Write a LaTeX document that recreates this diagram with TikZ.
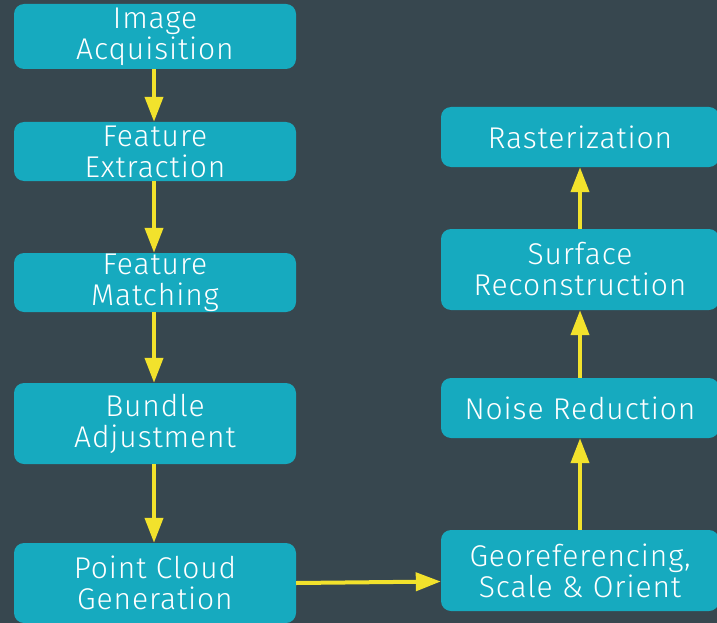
\documentclass[tikz,border=0pt]{standalone}
\usepackage{fontspec}
\setmainfont{Fira Sans Light}[LetterSpace=3]
\usetikzlibrary{arrows.meta}
\definecolor{bgc}{HTML}{37474F}
\definecolor{boxc}{HTML}{16AABF}
\definecolor{arrc}{HTML}{F2E22C}
\tikzset{
  stepbox/.style={fill=boxc, rounded corners=10pt, text=white, align=center,
    inner sep=0pt, font=\fontsize{30}{31}\selectfont},
  flow/.style={draw=arrc, line width=4pt, -{Triangle[length=25pt,width=18pt]}}
}
\begin{document}
\begin{tikzpicture}[x=1pt,y=-1pt]
\fill[bgc] (0,0) rectangle (717,623);
\useasboundingbox (0,0) rectangle (717,623);
\begin{scope}
\clip (0,0) rectangle (717,623);
\node[stepbox, minimum width=282pt, minimum height=65pt] (ia) at (155,36.5) {Image\\Acquisition};
\node[stepbox, minimum width=282pt, minimum height=59pt] (fe) at (155,151.5) {Feature\\Extraction};
\node[stepbox, minimum width=282pt, minimum height=59pt] (fm) at (155,282.5) {Feature\\Matching};
\node[stepbox, minimum width=282pt, minimum height=81pt] (ba) at (155,423.5) {Bundle\\Adjustment};
\node[stepbox, minimum width=282pt, minimum height=80pt] (pc) at (155,583) {Point Cloud\\Generation};
\node[stepbox, minimum width=278pt, minimum height=60pt] (ra) at (580,137) {Rasterization};
\node[stepbox, minimum width=278pt, minimum height=81pt] (sr) at (580,269.5) {Surface\\Reconstruction};
\node[stepbox, minimum width=278pt, minimum height=60pt] (nr) at (580,408) {Noise Reduction};
\node[stepbox, minimum width=278pt, minimum height=81pt] (ge) at (580,570.5) {Georeferencing,\\Scale \& Orient};
\end{scope}
\draw[flow] (ia.south -| 154,0) -- (fe.north -| 154,0);
\draw[flow] (fe.south -| 154,0) -- (fm.north -| 154,0);
\draw[flow] (fm.south -| 154,0) -- (ba.north -| 154,0);
\draw[flow] (ba.south -| 154,0) -- (pc.north -| 154,0);
\coordinate (geIn) at ([yshift=-11pt]ge.west);
\draw[flow] (pc.east) -- (geIn);
\draw[flow] (ge.north) -- (nr.south);
\draw[flow] (nr.north) -- (sr.south);
\draw[flow] (sr.north) -- (ra.south);
\end{tikzpicture}
\end{document}
